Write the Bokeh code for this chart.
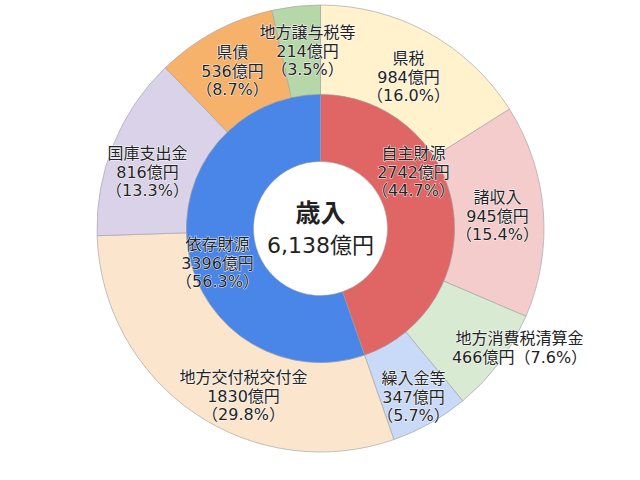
import math
from bokeh.plotting import figure
from bokeh.models import Range1d, ColumnDataSource
from bokeh.core.properties import value
from bokeh.embed import file_html
from bokeh.resources import INLINE

# ---- data ----
inner_names = ["自主財源", "依存財源"]
inner_values = [2742, 3396]
inner_pct = ["（44.7%）", "（56.3%）"]

outer_names = ["県税", "諸収入", "地方消費税清算金", "繰入金等",
               "地方交付税交付金", "国庫支出金", "県債", "地方譲与税等"]
outer_values = [984, 945, 466, 347, 1830, 816, 536, 214]
outer_pct = ["（16.0%）", "（15.4%）", "（7.6%）", "（5.7%）",
             "（29.8%）", "（13.3%）", "（8.7%）", "（3.5%）"]

total_label = "6,138億円"
center_title = "歳入"

# ---- styles ----
inner_colors = ["#E06666", "#4A86E8"]
outer_colors = ["#FFF2CC", "#F4CCCC", "#D9EAD3", "#C9DAF8",
                "#FCE5CD", "#D9D2E9", "#F6B26B", "#B6D7A8"]
FONT = "'DejaVu Sans', 'Noto Sans CJK JP'"
TXT = "#222222"

W, H = 624, 464
p = figure(width=W, height=H, output_backend="svg", toolbar_location=None,
           x_range=Range1d(0, W), y_range=Range1d(0, H),
           min_border=0, outline_line_color=None)
p.axis.visible = False
p.grid.visible = False
p.background_fill_color = "white"
p.border_fill_color = "white"


def Y(py):
    return H - py


cx, cy = 320, Y(228)
R_OUT, R_MID, R_HOLE = 223.5, 134, 67


def angles(vals):
    tot = sum(vals)
    starts, ends = [], []
    c = 0
    for v in vals:
        starts.append(math.pi / 2 - 2 * math.pi * c / tot)
        c += v
        ends.append(math.pi / 2 - 2 * math.pi * c / tot)
    return starts, ends


os_, oe_ = angles(outer_values)
src_o = ColumnDataSource(dict(x=[cx] * len(outer_values), y=[cy] * len(outer_values),
                              s=os_, e=oe_, c=outer_colors))
p.annular_wedge(x="x", y="y", inner_radius=R_MID, outer_radius=R_OUT,
                start_angle="s", end_angle="e", direction="clock",
                fill_color="c", line_color="#A8A8A8", line_width=0.7, source=src_o)

is_, ie_ = angles(inner_values)
src_i = ColumnDataSource(dict(x=[cx] * 2, y=[cy] * 2, s=is_, e=ie_, c=inner_colors))
p.annular_wedge(x="x", y="y", inner_radius=R_HOLE, outer_radius=R_MID,
                start_angle="s", end_angle="e", direction="clock",
                fill_color="c", line_color="#9A9A9A", line_width=0.5, source=src_i)

# ---- labels (page pixel anchor: x, first-line y) ----
outer_pos = [(408, 58), (497, 197), (519, 338), (413, 378),
             (243, 377), (147, 153), (232, 52), (307, 32)]
inner_pos = [(413, 153), (217, 244)]
LS = 18.7

xs, ys, ts = [], [], []
for i, (nm, v, pc) in enumerate(zip(outer_names, outer_values, outer_pct)):
    x0, y0 = outer_pos[i]
    if nm == "地方消費税清算金":
        lines = [nm, f"{v}億円{pc}"]
    else:
        lines = [nm, f"{v}億円", pc]
    for k, t in enumerate(lines):
        xs.append(x0); ys.append(Y(y0 + k * LS)); ts.append(t)
for i, (nm, v, pc) in enumerate(zip(inner_names, inner_values, inner_pct)):
    x0, y0 = inner_pos[i]
    for k, t in enumerate([nm, f"{v}億円", pc]):
        xs.append(x0); ys.append(Y(y0 + k * LS)); ts.append(t)

lbl = ColumnDataSource(dict(x=xs, y=ys, t=ts))
# white halo underneath
p.text(x="x", y="y", text="t", source=lbl, text_font=value(FONT), text_font_size="16px",
       text_align="center", text_baseline="middle", text_color="white",
       text_outline_color="white", text_alpha=0.9)
p.text(x="x", y="y", text="t", source=lbl, text_font=value(FONT), text_font_size="16px",
       text_align="center", text_baseline="middle", text_color=TXT)

p.text(x=[cx], y=[Y(213)], text=[center_title], text_font=value(FONT),
       text_font_size="25px", text_font_style="bold", text_align="center",
       text_baseline="middle", text_color=TXT)
p.text(x=[cx], y=[Y(245)], text=[total_label], text_font=value(FONT),
       text_font_size="22px", text_align="center",
       text_baseline="middle", text_color=TXT)

open("out.html", "w").write(file_html(p, INLINE))
